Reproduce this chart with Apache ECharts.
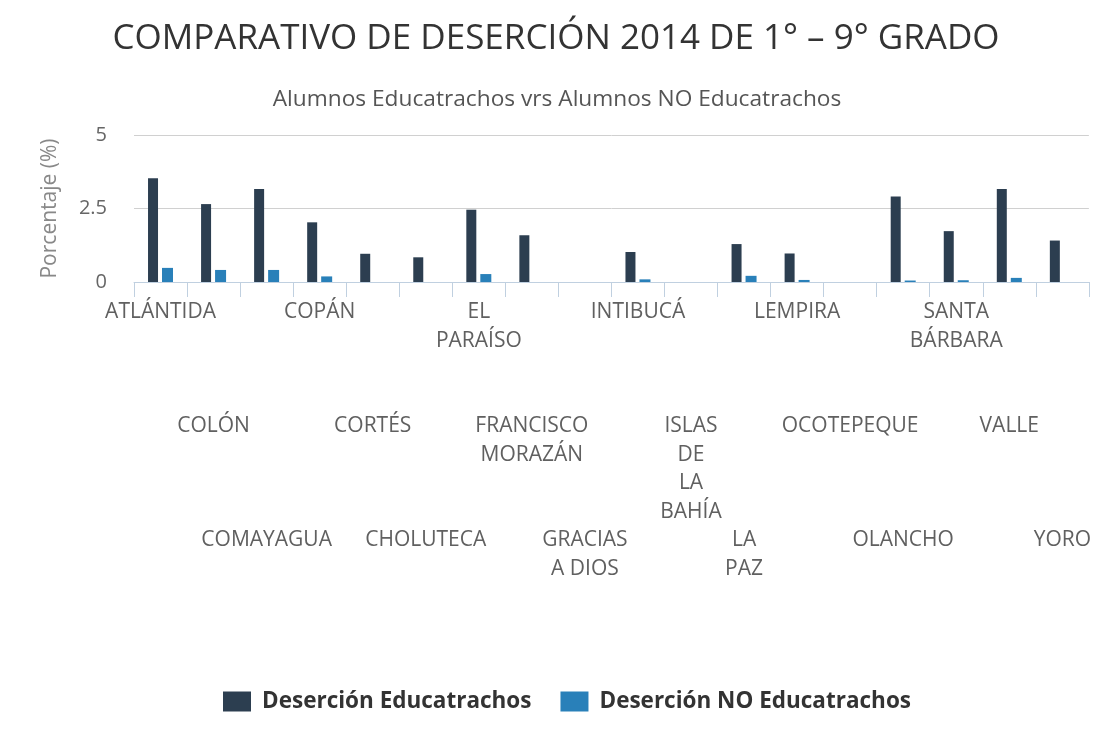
<!DOCTYPE html>
<html>
<head>
<meta charset="utf-8">
<script src="https://cdn.jsdelivr.net/npm/echarts@6/dist/echarts.min.js"></script>
<style>
  html, body { margin: 0; padding: 0; background: #fff; }
  #chart { width: 1094px; height: 735px; }
</style>
</head>
<body>
<div id="chart"></div>
<script>
// departamentos (etiquetas del eje X)
var categorias = ['ATLÁNTIDA', 'COLÓN', 'COMAYAGUA', 'COPÁN', 'CORTÉS', 'CHOLUTECA',
  'EL PARAÍSO', 'FRANCISCO MORAZÁN', 'GRACIAS A DIOS', 'INTIBUCÁ', 'ISLAS DE LA BAHÍA',
  'LA PAZ', 'LEMPIRA', 'OCOTEPEQUE', 'OLANCHO', 'SANTA BÁRBARA', 'VALLE', 'YORO'];
// como se parten en lineas las etiquetas
var etiquetas = ['ATLÁNTIDA', 'COLÓN', 'COMAYAGUA', 'COPÁN', 'CORTÉS', 'CHOLUTECA',
  'EL\nPARAÍSO', 'FRANCISCO\nMORAZÁN', 'GRACIAS\nA DIOS', 'INTIBUCÁ', 'ISLAS\nDE\nLA\nBAHÍA',
  'LA\nPAZ', 'LEMPIRA', 'OCOTEPEQUE', 'OLANCHO', 'SANTA\nBÁRBARA', 'VALLE', 'YORO'];
var educatrachos = [3.53, 2.65, 3.16, 2.03, 0.96, 0.84, 2.46, 1.59, 0, 1.02, 0,
  1.29, 0.97, 0, 2.91, 1.73, 3.16, 1.41];
var noEducatrachos = [0.48, 0.41, 0.41, 0.19, 0, 0, 0.27, 0, 0, 0.09, 0,
  0.21, 0.07, 0, 0.05, 0.06, 0.14, 0];
var ticksY = [0, 2.5, 5];

var chart = echarts.init(document.getElementById('chart'));

chart.setOption({
  color: ['#2c3e50', '#2980b9'],
  textStyle: { fontFamily: 'Open Sans' },
  title: [{
    text: 'COMPARATIVO DE DESERCIÓN 2014 DE 1° – 9° GRADO',
    left: 551, top: 17, textAlign: 'center',
    textStyle: { fontFamily: 'Open Sans', fontSize: 35, fontWeight: 'normal', color: '#333' }
  }, {
    text: 'Alumnos Educatrachos vrs Alumnos NO Educatrachos',
    left: 552, top: 83, textAlign: 'center',
    textStyle: { fontFamily: 'Open Sans', fontSize: 22.7, fontWeight: 'normal', color: '#555' }
  }],
  legend: {
    left: 223, top: 690, padding: 0,
    itemWidth: 28, itemHeight: 20, itemGap: 29,
    icon: 'rect',
    textStyle: { fontFamily: 'Open Sans', fontSize: 22.5, fontWeight: 'bold', color: '#333', padding: [0, 0, 0, 6] },
    data: ['Deserción Educatrachos', 'Deserción NO Educatrachos']
  },
  grid: { left: 134, right: 4, top: 135, bottom: 453 },
  xAxis: {
    type: 'category',
    data: categorias,
    axisLine: { lineStyle: { color: '#c0d0e0', width: 1 } },
    axisTick: { show: true, length: 15, lineStyle: { color: '#c0d0e0' } },
    axisLabel: {
      interval: 0,
      margin: 16,
      fontSize: 21,
      lineHeight: 28.5,
      color: '#606060',
      // filas escalonadas (3 niveles)
      formatter: function (value, index) {
        var fila = index % 3;
        var pre = '';
        for (var i = 0; i < fila * 4; i++) pre += '\n';
        return pre + etiquetas[index];
      }
    }
  },
  yAxis: {
    type: 'value',
    min: ticksY[0], max: ticksY[ticksY.length - 1], interval: 2.5,
    name: 'Porcentaje (%)',
    nameLocation: 'middle',
    nameGap: 73,
    nameTextStyle: { fontSize: 21, color: '#888' },
    axisLine: { show: false },
    axisTick: { show: false },
    axisLabel: { margin: 27, fontSize: 20, color: '#666' },
    splitLine: { lineStyle: { color: '#d0d0d0' } }
  },
  series: [{
    name: 'Deserción Educatrachos',
    type: 'bar',
    barWidth: 10,
    barGap: '40%',
    data: educatrachos
  }, {
    name: 'Deserción NO Educatrachos',
    type: 'bar',
    barWidth: 11,
    data: noEducatrachos
  }]
});
</script>
</body>
</html>
